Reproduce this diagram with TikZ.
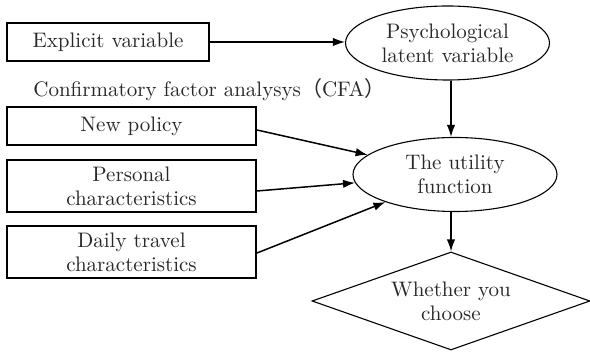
\documentclass[tikz,border=0pt]{standalone}
\usepackage{fontspec}
\newfontfamily\cjk{Noto Sans CJK SC}
\usetikzlibrary{shapes.geometric,arrows.meta}
\definecolor{txt}{RGB}{40,40,40}
\tikzset{
  boxnode/.style={draw=black,line width=1pt,rectangle,inner sep=0pt,align=center,text=txt,minimum width=124.5pt},
  ellnode/.style={draw=black,line width=0.55pt,ellipse,inner sep=0pt,align=center,text=txt,minimum width=102pt,minimum height=37pt},
  dianode/.style={draw=black,line width=0.55pt,diamond,shape aspect=2.8,inner sep=0pt,align=center,text=txt,minimum width=139pt,minimum height=49pt},
  conn/.style={line width=0.75pt,-{Latex[length=6pt,width=4.2pt]}}
}
\begin{document}
\begin{tikzpicture}[x=0.5pt,y=-0.5pt,font=\fontsize{10.5}{12}\selectfont]
\useasboundingbox (0,0) rectangle (590,357);
\node[boxnode,minimum width=101pt,minimum height=19pt] (ev) at (108,42) {Explicit variable};
\node[boxnode,minimum height=19pt] (np) at (131.5,126) {New policy};
\node[boxnode,minimum height=26pt] (pc) at (131.5,186) {Personal\\characteristics};
\node[boxnode,minimum height=26pt] (dt) at (131.5,252) {Daily travel\\characteristics};
\node[ellnode] (psy) at (447.5,43) {Psychological\\latent variable};
\node[ellnode] (uf) at (455,174.5) {The utility\\function};
\node[dianode] (dia) at (451,301) {Whether you\\choose};
\node[text=txt,anchor=west,inner sep=0pt] (cfa) at (33,90) {Confirmatory factor analysys{\cjk （}CFA{\cjk ）}};
\draw[conn] (ev.east) -- (ev.east -| psy.west);
\draw[conn] (psy.south -| dia.north) -- (dia.north |- uf.north);
\draw[conn] ([yshift=-2pt]np.east) -- (uf);
\draw[conn] ([yshift=-2.5pt]pc.east) -- (uf);
\draw[conn] ([yshift=-0.5pt]dt.east) -- (uf);
\draw[conn] (uf.south -| dia.north) -- (dia.north);
\end{tikzpicture}
\end{document}
